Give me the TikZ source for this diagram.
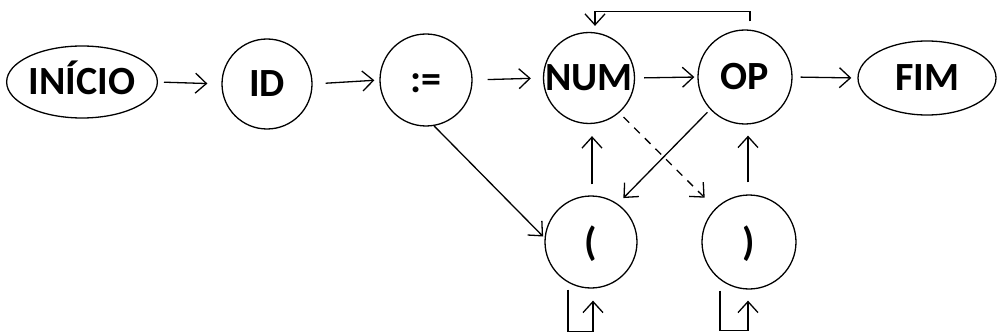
\documentclass[tikz,border=0pt]{standalone}
\usepackage{fontspec}
\setmainfont{Carlito}
\usetikzlibrary{shapes.geometric,arrows.meta}
\tikzset{
  state/.style={circle,draw,line width=1.3pt,minimum size=#1,inner sep=0pt,text height=26pt,text depth=0pt,font=\fontsize{40}{44}\selectfont\bfseries},
  term/.style={ellipse,draw,line width=1.3pt,minimum width=140pt,minimum height=72pt,inner sep=0pt,text height=26pt,text depth=0pt,font=\fontsize{40}{44}\selectfont\bfseries},
  arr/.style={line width=1.3pt,-{Straight Barb[length=11pt,width=20pt,line width=1.3pt]}},
}
\begin{document}
\begin{tikzpicture}[x=1pt,y=-1pt]
\useasboundingbox (0,0) rectangle (998,334);
\node[term] (ini) at (82,82) {INÍCIO};
\node[state=90pt] (id) at (267,84) {ID};
\node[state=92pt] (as) at (426,80) {:=};
\node[state=90pt] (num) at (589,78) {NUM};
\node[state=94pt] (op) at (745,77) {OP};
\node[term,minimum width=138pt,minimum height=74pt] (fim) at (927,78) {FIM};
\node[state=92pt] (lp) at (591,242) {(};
\node[state=94pt] (rp) at (749,242) {)};

\draw[arr,shorten <=6pt,shorten >=14pt] (ini.east) -- (id.west);
\draw[arr,shorten <=13pt,shorten >=5pt] (id.east) -- (as.west);
\draw[arr,shorten <=15pt,shorten >=12pt] (as.east) -- (num.west);
\draw[arr,shorten <=9pt,shorten >=3pt] (num.east) -- (op.west);
\draw[arr,shorten <=8pt,shorten >=6pt] (op.east) -- (fim.west);

\draw[arr] ([xshift=5pt,yshift=8pt]op.north) -- ++(0,-10) -| ([xshift=6pt,yshift=6pt]num.north);

\draw[arr,shorten >=2pt] (as.280) -- (lp.175);
\draw[arr,shorten <=4pt,shorten >=8pt] (op.223) -- (lp.55);
\draw[arr,dashed,dash pattern=on 8pt off 7pt,shorten <=6pt,shorten >=15pt] (num.311) -- (rp.135);

\draw[arr,shorten <=11pt,shorten >=12pt] ([xshift=1pt]lp.north) -- ([xshift=1pt]lp.north |- num.south);
\draw[arr,shorten <=12pt,shorten >=11pt] ([xshift=-1pt]rp.north) -- ([xshift=-1pt]rp.north |- op.south);

\draw[arr] ([xshift=-23pt,yshift=-1pt]lp.south) -- ++(0,42) -| ([xshift=2pt,yshift=-12pt]lp.south);
\draw[arr] ([xshift=-29pt,yshift=-1pt]rp.south) -- ++(0,40) -| ([xshift=-1pt,yshift=-11pt]rp.south);
\end{tikzpicture}
\end{document}
